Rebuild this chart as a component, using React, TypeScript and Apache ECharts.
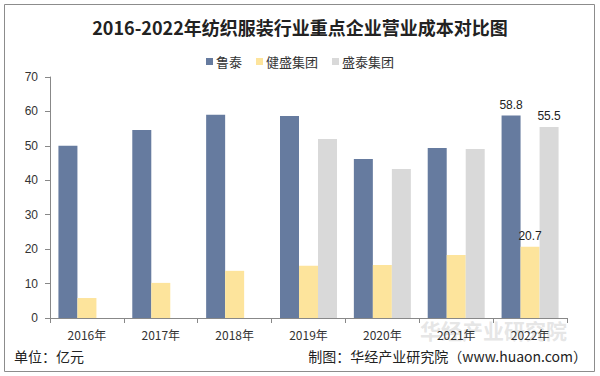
import React, { useEffect, useRef } from "react";
import * as echarts from "echarts";

const categories = ["2016年", "2017年", "2018年", "2019年", "2020年", "2021年", "2022年"];
const luTai = [50.0, 54.6, 59.0, 58.7, 46.2, 49.4, 58.8];
const jianSheng = [5.8, 10.2, 13.7, 15.2, 15.4, 18.3, 20.7];
const shengTai = [null, null, null, 52.0, 43.3, 49.1, 55.5];
const yTicks = { min: 0, max: 70, interval: 10 };
const titleText = "2016-2022年纺织服装行业重点企业营业成本对比图";

const FONT = "'Noto Sans CJK SC', 'Liberation Sans', sans-serif";

export default function App() {
  const ref = useRef<HTMLDivElement>(null);
  useEffect(() => {
    if (!ref.current) return;
    const chart = echarts.init(ref.current, undefined, { renderer: "svg" });
    const lastLabel = () => ({
      show: true,
      position: "top",
      color: "#222",
      fontSize: 12,
      fontFamily: "'Liberation Sans', Arial, sans-serif",
      formatter: (p: any) => (p.dataIndex === categories.length - 1 ? Number(p.value).toFixed(1) : ""),
    });
    chart.setOption({
      animation: false,
      backgroundColor: "#ffffff",
      textStyle: { fontFamily: FONT },
      title: {
        text: titleText,
        left: "center",
        top: 13,
        textStyle: { fontSize: 18, fontWeight: "bold", color: "#222", fontFamily: "'Noto Sans CJK SC', serif" },
      },
      legend: {
        top: 50,
        left: "center",
        itemWidth: 7,
        itemHeight: 7,
        itemGap: 14,
        icon: "rect",
        textStyle: { fontSize: 13, color: "#333", padding: [0, 0, 0, -2] },
        data: ["鲁泰", "健盛集团", "盛泰集团"],
      },
      grid: { left: 50, right: 33, top: 77, bottom: 58, containLabel: false },
      xAxis: {
        type: "category",
        data: categories,
        axisLine: { lineStyle: { color: "#888" } },
        axisTick: { show: true, length: 5, lineStyle: { color: "#888" } },
        axisLabel: { fontSize: 12, color: "#333", margin: 10 },
      },
      yAxis: {
        type: "value",
        min: yTicks.min,
        max: yTicks.max,
        interval: yTicks.interval,
        axisLine: { show: true, lineStyle: { color: "#888" } },
        axisTick: { show: true, length: 5, lineStyle: { color: "#888" } },
        splitLine: { show: false },
        axisLabel: { fontSize: 12, color: "#333", margin: 12, fontFamily: "'Liberation Sans', Arial, sans-serif" },
      },
      series: [
        { name: "鲁泰", type: "bar", data: luTai, barWidth: 19, barGap: "0%", itemStyle: { color: "#667b9f" }, label: lastLabel() },
        { name: "健盛集团", type: "bar", data: jianSheng, barWidth: 19, barGap: "0%", itemStyle: { color: "#fde49c" }, label: lastLabel() },
        { name: "盛泰集团", type: "bar", data: shengTai, barWidth: 19, barGap: "0%", itemStyle: { color: "#d9d9d9" }, label: lastLabel() },
      ],
      graphic: [
        {
          type: "rect",
          shape: { x: 4.5, y: 4.5, width: 590, height: 367 },
          style: { fill: "none", stroke: "#8c8c8c", lineWidth: 1 },
          silent: true,
        },
        {
          type: "text",
          x: 420,
          y: 319,
          z: -1,
          style: { text: "华经产业研究院", fontSize: 21, fontWeight: "bold", fill: "rgba(190,190,190,0.4)", fontFamily: FONT },
          silent: true,
        },
        {
          type: "text",
          x: 14,
          y: 349,
          style: { text: "单位：亿元", fontSize: 14, fill: "#222", fontFamily: FONT },
        },
        {
          type: "text",
          x: 587,
          y: 349,
          style: { text: "制图：华经产业研究院（www.huaon.com）", fontSize: 14, fill: "#222", fontFamily: FONT, align: "right" },
        },
      ],
    });
    return () => chart.dispose();
  }, []);
  return <div ref={ref} style={{ position: "fixed", left: 0, top: 0, width: 600, height: 376 }} />;
}
